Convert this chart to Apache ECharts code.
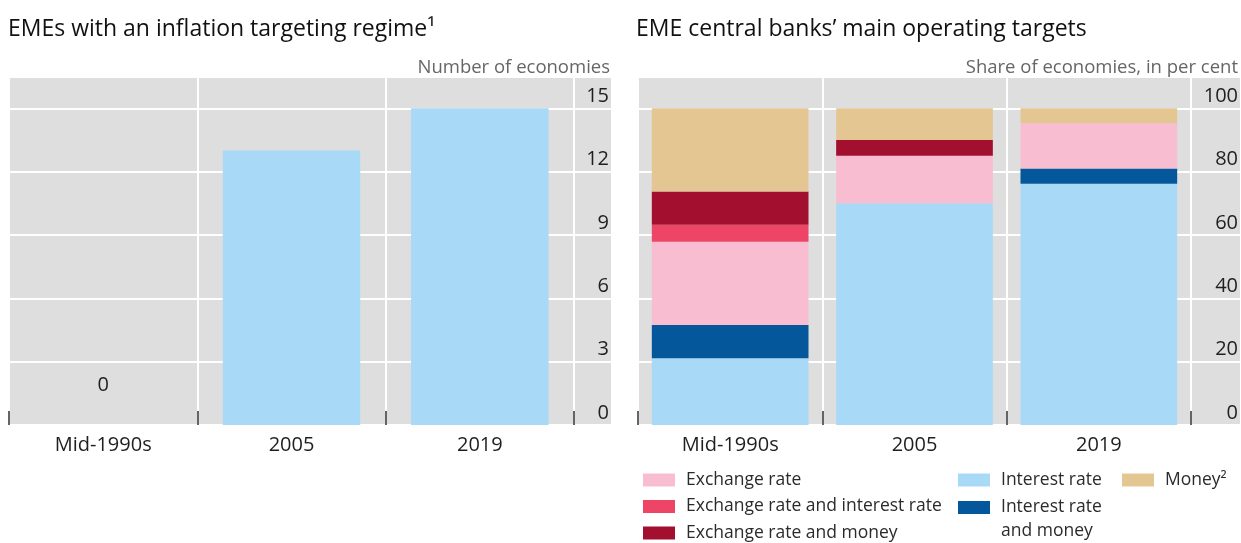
<!DOCTYPE html>
<html>
<head>
<meta charset="utf-8">
<title>EME inflation targeting and operating targets</title>
<script src="https://cdn.jsdelivr.net/npm/echarts@6/dist/echarts.min.js"></script>
<style>
  html, body { margin: 0; padding: 0; background: #ffffff; }
  #chart { width: 1241px; height: 543px; }
</style>
</head>
<body>
<div id="chart"></div>
<script>
// Categories shared by both panels
const categories = ['Mid-1990s', '2005', '2019'];

// Left panel: number of EMEs with an inflation targeting regime
const itEconomies = [0, 13, 15];

// Right panel: share of EME central banks by main operating target (per cent)
const interestRate = [21.1, 70, 76.2];
const interestRateMoney = [10.5, 0, 4.8];
const exchangeRate = [26.3, 15, 14.3];
const exchangeInterest = [5.3, 0, 0];
const exchangeMoney = [10.5, 5, 0];
const money = [26.3, 10, 4.7];

// Value-axis tick labels
const countTicks = [0, 3, 6, 9, 12, 15];
const shareTicks = [0, 20, 40, 60, 80, 100];

// ---- layout & style ----
const FONT = 'Open Sans';
const GRID_TOP = 77;
const GRID_H = 348;
const TOP_PAD = 31.3;                       // headroom above the highest tick
const headroom = GRID_H / (GRID_H - TOP_PAD);
const BG = '#dedede';
const TEXT = '#1f1f1f';

const countMax = countTicks[countTicks.length - 1] * headroom;
const shareMax = shareTicks[shareTicks.length - 1] * headroom;

function tickLabelFormatter(ticks) {
  return v => (ticks.indexOf(Math.round(v * 1000) / 1000) >= 0 ? String(v) : '');
}

// grid pairs: a grey backdrop grid carrying the value labels and horizontal lines,
// and a narrower grid with the category axis and bars
function backdropGrid(left, width) {
  return { left, top: GRID_TOP, width, height: GRID_H, show: true, backgroundColor: BG, borderWidth: 0, z: -1 };
}
function dataGrid(left, width) {
  return { left, top: GRID_TOP, width, height: GRID_H };
}

function valueAxisVisible(gridIndex, max, ticks) {
  return {
    type: 'value', gridIndex, position: 'right', min: 0, max, interval: ticks[1] - ticks[0],
    axisLine: { show: false }, axisTick: { show: false },
    splitLine: { show: true, lineStyle: { color: '#ffffff', width: 2 } },
    axisLabel: {
      inside: true, margin: 2, verticalAlign: 'bottom', padding: [0, 0, 2, 0],
      fontFamily: FONT, fontSize: 20, color: TEXT,
      formatter: tickLabelFormatter(ticks),
      showMaxLabel: true
    }
  };
}
function valueAxisHidden(gridIndex, max) {
  return { type: 'value', gridIndex, min: 0, max, show: false, splitLine: { show: false } };
}
function categoryAxis(gridIndex) {
  return {
    type: 'category', gridIndex, data: categories, boundaryGap: true,
    axisLine: { show: false },
    axisTick: { show: true, inside: true, length: 14, lineStyle: { color: '#333333', width: 1.5 } },
    splitLine: { show: true, lineStyle: { color: '#ffffff', width: 2 } },
    axisLabel: { margin: 10, fontFamily: FONT, fontSize: 20, color: TEXT }
  };
}
function hiddenX(gridIndex) {
  return { type: 'value', gridIndex, show: false, min: 0, max: 1, splitLine: { show: false } };
}

const seriesColors = {
  'Interest rate': '#a8d9f7',
  'Interest rate\nand money': '#04579b',
  'Exchange rate': '#f9bdd2',
  'Exchange rate and interest rate': '#ee4566',
  'Exchange rate and money': '#a30f2e',
  'Money²': '#e4c692'
};

const stackOrder = [
  ['Interest rate', interestRate],
  ['Interest rate\nand money', interestRateMoney],
  ['Exchange rate', exchangeRate],
  ['Exchange rate and interest rate', exchangeInterest],
  ['Exchange rate and money', exchangeMoney],
  ['Money²', money]
];

const shareSeries = stackOrder.map(([name, values]) => ({
  name, type: 'bar', stack: 'share', xAxisIndex: 3, yAxisIndex: 3,
  barWidth: '85%', data: values,
  itemStyle: { color: seriesColors[name] },
  emphasis: { disabled: true }
}));

const itSeries = {
  name: 'Inflation targeting', type: 'bar', xAxisIndex: 1, yAxisIndex: 1,
  barWidth: '73%',
  data: itEconomies.map(v => (v === 0
    ? { value: v, label: { show: true, position: 'top', distance: 30, fontFamily: FONT, fontSize: 20, color: TEXT } }
    : v)),
  itemStyle: { color: '#a8d9f7' },
  emphasis: { disabled: true }
};

// legend entries: [series name, swatch left, swatch top]
const legendLayout = [
  ['Exchange rate', 643, 473.5],
  ['Exchange rate and interest rate', 643, 500],
  ['Exchange rate and money', 643, 526.5],
  ['Interest rate', 958, 473.5],
  ['Interest rate\nand money', 958, 501],
  ['Money²', 1122, 473.5]
];
const LEG_LH = 23.5;
const LEG_ICON_H = 13;
const legends = legendLayout.map(([name, left, top]) => {
  // multi-line names get a leading blank line so the first line sits beside the swatch
  const lines = name.split('\n').length;
  const shown = lines > 1 ? '\n' + name : name;
  const blockLines = lines > 1 ? lines + 1 : 1;
  const textTop = LEG_ICON_H / 2 - (blockLines * LEG_LH) / 2;
  return {
    data: [name], left, top: top + Math.min(0, textTop), padding: 0, orient: 'vertical',
    icon: 'rect', itemWidth: 32, itemHeight: LEG_ICON_H, selectedMode: false,
    formatter: () => shown,
    textStyle: { fontFamily: FONT, fontSize: 17.5, lineHeight: LEG_LH, color: '#2b2b2b', padding: [0, 0, 0, 6] }
  };
});

const titleStyle = { fontFamily: FONT, fontSize: 23, fontWeight: 'normal', color: '#111111' };
const unitStyle = { fontFamily: FONT, fontSize: 18.5, fontWeight: 'normal', color: '#666666' };

const option = {
  animation: false,
  backgroundColor: '#ffffff',
  textStyle: { fontFamily: FONT },
  title: [
    { text: 'EMEs with an inflation targeting regime¹', left: 8, top: 18, padding: 0, textStyle: titleStyle },
    { text: 'EME central banks’ main operating targets', left: 636, top: 18, padding: 0, textStyle: titleStyle },
    { text: 'Number of economies', right: 631, top: 58, padding: 0, textStyle: unitStyle },
    { text: 'Share of economies, in per cent', right: 3, top: 58, padding: 0, textStyle: unitStyle }
  ],
  grid: [
    backdropGrid(9, 602),
    dataGrid(9, 565),
    backdropGrid(638, 603),
    dataGrid(638, 553)
  ],
  xAxis: [hiddenX(0), categoryAxis(1), hiddenX(2), categoryAxis(3)],
  yAxis: [
    valueAxisVisible(0, countMax, countTicks),
    valueAxisHidden(1, countMax),
    valueAxisVisible(2, shareMax, shareTicks),
    valueAxisHidden(3, shareMax)
  ],
  legend: legends,
  series: [itSeries].concat(shareSeries)
};

const chart = echarts.init(document.getElementById('chart'), null, { renderer: 'canvas' });
chart.setOption(option);
</script>
</body>
</html>
